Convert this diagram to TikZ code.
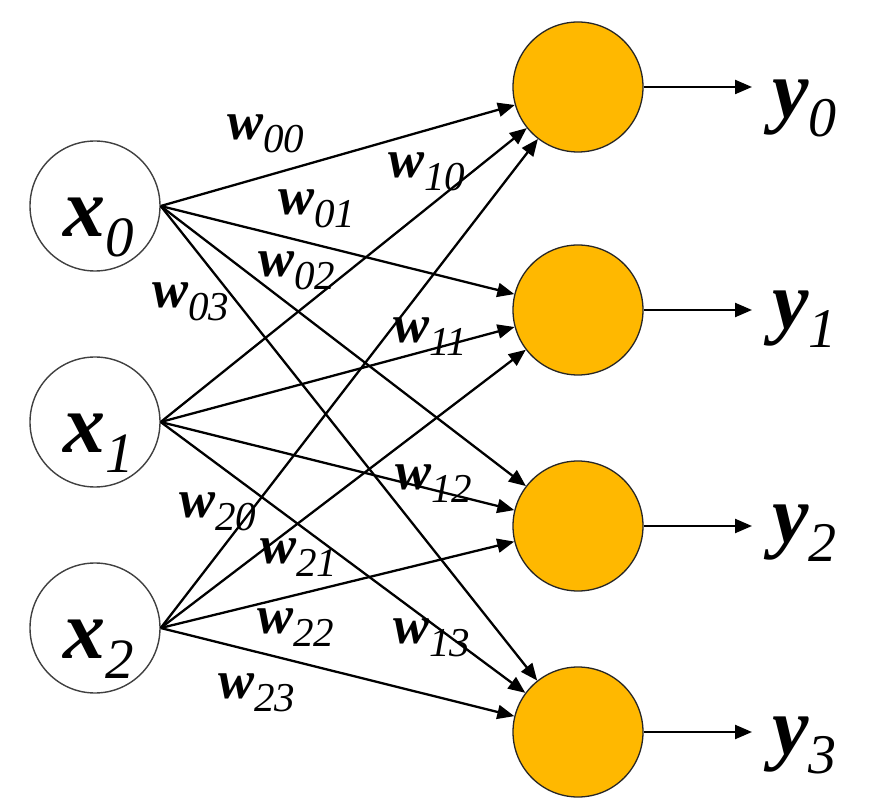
\documentclass[tikz,border=0pt]{standalone}
\usepackage{fontspec}
\setmainfont{Liberation Serif}
\usepackage{tikz}
\usetikzlibrary{arrows.meta, positioning}
\definecolor{neuAmbar}{RGB}{255, 184, 0}
\newcommand{\wgt}[1]{{\fontsize{54}{54}\selectfont\bfseries\itshape w}\raisebox{-13pt}{\fontsize{41}{41}\selectfont\itshape #1}}
\newcommand{\xent}[1]{{\fontsize{84}{84}\selectfont\bfseries\itshape x}\raisebox{-20pt}{\fontsize{57}{57}\selectfont\itshape #1}}
\newcommand{\ysal}[1]{{\fontsize{82}{82}\selectfont\bfseries\itshape y}\raisebox{-19pt}{\fontsize{56}{56}\selectfont\itshape #1}}

\begin{document}
\begin{tikzpicture}[x=1pt, y=1pt,
        entrada/.style={circle, draw=black!75, line width=1.4pt, minimum size=130pt, inner sep=0pt},
        neurona/.style={circle, draw=black!85, fill=neuAmbar, line width=1.3pt, minimum size=130pt, inner sep=0pt},
        peso/.style={anchor=base west, inner sep=0pt},
        etiq/.style={anchor=base west, inner sep=0pt},
        flecha/.style={-{Triangle[length=17pt, width=14pt]}, line width=2.3pt}]
        \useasboundingbox (0,0) rectangle (888,809);
        \node[entrada] (x0) at (95,603) {};
        \node[entrada] (x1) at (95,387) {};
        \node[entrada] (x2) at (95,181) {};
        \node[etiq] (lx0) at (63,572) {\xent{0}};
        \node[etiq] (lx1) at (63,356) {\xent{1}};
        \node[etiq] (lx2) at (63,151) {\xent{2}};
        \node[neurona] (y0) at (578,722) {};
        \node[neurona] (y1) at (578,499) {};
        \node[neurona] (y2) at (578,283) {};
        \node[neurona] (y3) at (578,77) {};
        \coordinate (o0) at (752,722);
        \coordinate (o1) at (752,499);
        \coordinate (o2) at (752,283);
        \coordinate (o3) at (752,77);
        \draw[flecha] (x0.east) -- (y0);
        \draw[flecha] (x0.east) -- (y1);
        \draw[flecha] (x0.east) -- (y2);
        \draw[flecha] (x0.east) -- (y3);
        \draw[flecha] (x1.east) -- (y0);
        \draw[flecha] (x1.east) -- (y1);
        \draw[flecha] (x1.east) -- (y2);
        \draw[flecha] (x1.east) -- (y3);
        \draw[flecha] (x2.east) -- (y0);
        \draw[flecha] (x2.east) -- (y1);
        \draw[flecha] (x2.east) -- (y2);
        \draw[flecha] (x2.east) -- (y3);
        \draw[flecha] (y0) -- (o0);
        \draw[flecha] (y1) -- (o1);
        \draw[flecha] (y2) -- (o2);
        \draw[flecha] (y3) -- (o3);
        \node[etiq] (ly0) at (772,691) {\ysal{0}};
        \node[etiq] (ly1) at (772,480) {\ysal{1}};
        \node[etiq] (ly2) at (772,267) {\ysal{2}};
        \node[etiq] (ly3) at (772,55) {\ysal{3}};
        \node[peso] (w00) at (227,669) {\wgt{00}};
        \node[peso] (w01) at (278,594) {\wgt{01}};
        \node[peso] (w02) at (258,532) {\wgt{02}};
        \node[peso] (w03) at (152,501) {\wgt{03}};
        \node[peso] (w10) at (388,631) {\wgt{10}};
        \node[peso] (w11) at (393,466) {\wgt{11}};
        \node[peso] (w12) at (395,319) {\wgt{12}};
        \node[peso] (w13) at (393,166) {\wgt{13}};
        \node[peso] (w20) at (179,291) {\wgt{20}};
        \node[peso] (w21) at (260,246) {\wgt{21}};
        \node[peso] (w22) at (257,176) {\wgt{22}};
        \node[peso] (w23) at (218,111) {\wgt{23}};
    \end{tikzpicture}
\end{document}
